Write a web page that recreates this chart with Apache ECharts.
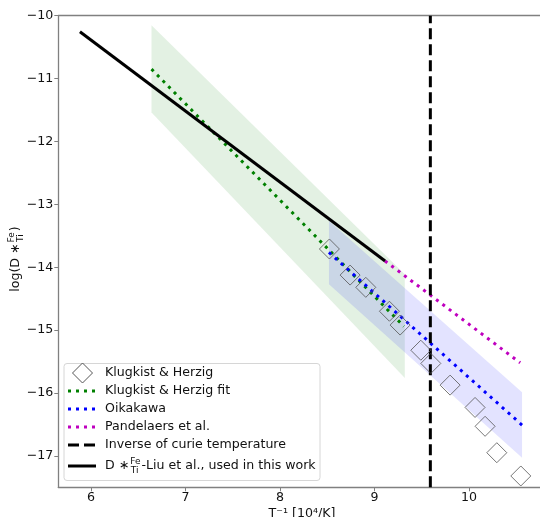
<!DOCTYPE html>
<html><head><meta charset="utf-8">
<script src="https://cdn.jsdelivr.net/npm/echarts@6/dist/echarts.min.js"></script>
<style>html,body{margin:0;padding:0;background:#fff}#c{width:540px;height:517px}</style>
</head><body><div id="c"></div>
<script>
// ---- data ----
const xTicks = [6, 7, 8, 9, 10];
const yTicks = [-17, -16, -15, -14, -13, -12, -11, -10];
const khX = [8.522, 8.741, 8.907, 9.157, 9.270, 9.489, 9.595, 9.799, 10.063, 10.169, 10.293, 10.547];
const khY = [-13.71, -14.125, -14.32, -14.70, -14.92, -15.32, -15.53, -15.875, -16.23, -16.53, -16.95, -17.32];
const khFitX = [6.64, 9.31];
const khFitY = [-10.85, -14.94];
const khBandX = [6.64, 9.32];
const khBandUpper = [-10.15, -14.11];
const khBandLower = [-11.54, -15.76];
const oiX = [8.517, 10.56];
const oiY = [-13.765, -16.51];
const oiBandX = [8.517, 10.56];
const oiBandUpper = [-13.26, -15.99];
const oiBandLower = [-14.27, -17.03];
const paX = [9.11, 10.54];
const paY = [-13.90, -15.52];
const curieX = [9.59, 9.59];
const curieY = [-17.5, -10];
const liuX = [5.883, 9.111];
const liuY = [-10.255, -13.90];
const legendLabels = ['Klugkist & Herzig', 'Klugkist & Herzig fit', 'Oikakawa', 'Pandelaers et al.', 'Inverse of curie temperature', '-Liu et al., used in this work'];
const xAxisTitle = 'T\u207B\u00B9 [10\u2074/K]';
const X_MIN = 5.654, X_MAX = 10.75, Y_MIN = -17.5, Y_MAX = -10;

// ---- helpers ----
const FONT = 'DejaVu Sans';
const FS = 12.6;
const ctx = document.createElement('canvas').getContext('2d');
function tw(s, size) { ctx.font = size + 'px "' + FONT + '"'; return ctx.measureText(s).width; }
const pairs = (xs, ys) => xs.map((x, i) => [x, ys[i]]);
const minus = v => String(v).replace('-', '\u2212');

function band(xs, up, lo, color) {
  return {
    type: 'custom', silent: true, z: 1,
    data: [[xs[0], up[0]]],
    renderItem: (params, api) => {
      const pts = [];
      for (let i = 0; i < xs.length; i++) pts.push(api.coord([xs[i], up[i]]));
      for (let i = xs.length - 1; i >= 0; i--) pts.push(api.coord([xs[i], lo[i]]));
      return { type: 'polygon', shape: { points: pts }, style: { fill: color } };
    }
  };
}
function line(xs, ys, color, dash, z) {
  return {
    type: 'line', data: pairs(xs, ys), showSymbol: false, symbol: 'none', z: z || 3,
    lineStyle: { color: color, width: 3, type: dash, cap: 'butt' }, silent: true
  };
}

// ---- legend (graphic) ----
const lg = [];
const lx = 64, ly = 363.5, lw = 256, lh = 117;
lg.push({ type: 'rect', shape: { x: lx, y: ly, width: lw, height: lh, r: 3 }, style: { fill: 'rgba(255,255,255,0.85)', stroke: '#d6d6d6', lineWidth: 1 } });
const icons = [
  { kind: 'diamond' },
  { kind: 'line', color: '#008000', dash: [3, 5] },
  { kind: 'line', color: '#0000ff', dash: [3, 5] },
  { kind: 'line', color: '#bf00bf', dash: [3, 5] },
  { kind: 'line', color: '#000', dash: [11, 5] },
  { kind: 'line', color: '#000', dash: null }
];
legendLabels.forEach((lab, i) => {
  const cy = ly + 9.5 + i * 18 + (i === 5 ? 3 : 0);
  const ic = icons[i];
  if (ic.kind === 'diamond') {
    lg.push({ type: 'polygon', shape: { points: [[82.5, cy - 10], [92.5, cy], [82.5, cy + 10], [72.5, cy]] }, style: { fill: 'none', stroke: '#555', lineWidth: 1 } });
  } else {
    lg.push({ type: 'line', shape: { x1: 68, y1: cy, x2: 96, y2: cy }, style: { stroke: ic.color, lineWidth: 3, lineDash: ic.dash, lineCap: 'butt' } });
  }
  if (i < 5) {
    lg.push({ type: 'text', x: 105, y: cy, style: { text: lab, font: FS + 'px "' + FONT + '"', fill: '#111', verticalAlign: 'middle', align: 'left' } });
  } else {
    const main = 'D \u2217';
    const w0 = tw(main, FS);
    lg.push({ type: 'text', x: 105, y: cy, style: { text: main, font: FS + 'px "' + FONT + '"', fill: '#111', verticalAlign: 'middle' } });
    lg.push({ type: 'text', x: 105 + w0 + 1, y: cy - 4.5, style: { text: 'Fe', font: '9px "' + FONT + '"', fill: '#111', verticalAlign: 'middle' } });
    lg.push({ type: 'text', x: 105 + w0 + 1.5, y: cy + 5, style: { text: 'Ti', font: '9px "' + FONT + '"', fill: '#111', verticalAlign: 'middle' } });
    const w1 = Math.max(tw('Fe', 9), tw('Ti', 9));
    lg.push({ type: 'text', x: 105 + w0 + 2 + w1, y: cy, style: { text: lab, font: FS + 'px "' + FONT + '"', fill: '#111', verticalAlign: 'middle' } });
  }
});

// ---- y axis title (rotated) ----
const yt = [];
{
  const a = 'log(D \u2217', b = ')';
  const wa = tw(a, FS), ws = Math.max(tw('Fe', 9), tw('Ti', 9)), wb = tw(b, FS);
  const W = wa + ws + 2 + wb;
  let x0 = -W / 2;
  yt.push({ type: 'text', x: x0, y: 0, style: { text: a, font: FS + 'px "' + FONT + '"', fill: '#111', verticalAlign: 'middle' } });
  yt.push({ type: 'text', x: x0 + wa + 1, y: -4.5, style: { text: 'Fe', font: '9px "' + FONT + '"', fill: '#111', verticalAlign: 'middle' } });
  yt.push({ type: 'text', x: x0 + wa + 1.5, y: 5, style: { text: 'Ti', font: '9px "' + FONT + '"', fill: '#111', verticalAlign: 'middle' } });
  yt.push({ type: 'text', x: x0 + wa + ws + 2, y: 0, style: { text: b, font: FS + 'px "' + FONT + '"', fill: '#111', verticalAlign: 'middle' } });
}

const spine = { show: true, lineStyle: { color: '#808080', width: 1.3 } };
const chart = echarts.init(document.getElementById('c'), null, { renderer: 'canvas' });
chart.setOption({
  animation: false,
  backgroundColor: '#fff',
  textStyle: { fontFamily: FONT },
  grid: { left: 58.3, top: 15.7, right: 0, bottom: 29.7 },
  xAxis: [{
    type: 'value', min: X_MIN, max: X_MAX, position: 'bottom',
    axisLine: spine,
    splitLine: { show: false },
    axisTick: { show: true, length: 4, lineStyle: { color: '#808080' }, customValues: xTicks },
    axisLabel: { customValues: xTicks, fontSize: FS, color: '#111', margin: 4, fontFamily: FONT, formatter: v => minus(v) }
  }, {
    type: 'value', min: X_MIN, max: X_MAX, position: 'top',
    axisLine: spine, axisTick: { show: false }, axisLabel: { show: false }, splitLine: { show: false }
  }],
  yAxis: {
    type: 'value', min: Y_MIN, max: Y_MAX,
    axisLine: spine,
    splitLine: { show: false },
    axisTick: { show: true, length: 4, lineStyle: { color: '#808080' }, customValues: yTicks },
    axisLabel: { customValues: yTicks, fontSize: FS, color: '#111', margin: 5, fontFamily: FONT, formatter: v => minus(v) }
  },
  graphic: [
    { type: 'group', z: 100, children: lg },
    { type: 'group', x: 16, y: 259, rotation: Math.PI / 2, children: yt },
    { type: 'text', x: 302, y: 514, style: { text: xAxisTitle, font: FS + 'px "' + FONT + '"', fill: '#111', align: 'center', verticalAlign: 'middle' } }
  ],
  series: [
    band(khBandX, khBandUpper, khBandLower, 'rgba(0,128,0,0.11)'),
    band(oiBandX, oiBandUpper, oiBandLower, 'rgba(0,0,255,0.11)'),
    {
      type: 'scatter', data: pairs(khX, khY), symbol: 'diamond', symbolSize: 20, z: 4, silent: true,
      itemStyle: { color: 'transparent', borderColor: '#555', borderWidth: 1 }
    },
    line(khFitX, khFitY, '#008000', [3, 5], 3),
    line(oiX, oiY, '#0000ff', [3, 5], 3),
    line(paX, paY, '#bf00bf', [3, 5], 3),
    line(curieX, curieY, '#000', [11, 5], 3),
    line(liuX, liuY, '#000', 'solid', 3)
  ]
});
</script>
</body></html>
